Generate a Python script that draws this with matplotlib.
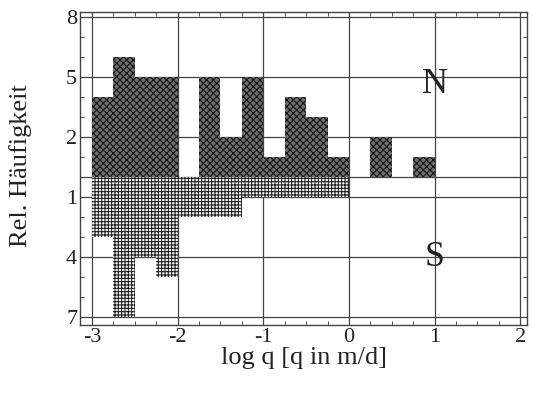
import matplotlib
matplotlib.use("Agg")
import matplotlib.pyplot as plt
from matplotlib.ticker import MultipleLocator

# histogram bins of log q (lower edges), width 0.25
BIN_LEFT = [-3.0, -2.75, -2.5, -2.25, -2.0, -1.75, -1.5, -1.25,
            -1.0, -0.75, -0.5, -0.25, 0.0, 0.25, 0.5, 0.75]
BIN_WIDTH = 0.25
N_FREQ = [4, 6, 5, 5, 0, 5, 2, 5, 1, 4, 3, 1, 0, 2, 0, 1]
S_FREQ = [3, 7, 4, 5, 2, 2, 2, 1, 1, 1, 1, 1, 0, 0, 0, 0]

X_TICKS = [-3, -2, -1, 0, 1, 2]
X_TICK_LABELS = ["-3", "-2", "-1", "0", "1", "2"]
Y_TICKS = [8, 5, 2, -1, -4, -7]
Y_TICK_LABELS = ["8", "5", "2", "1", "4", "7"]

SERIF = ["Liberation Serif", "DejaVu Serif"]
plt.rcParams["font.family"] = SERIF
plt.rcParams["hatch.linewidth"] = 0.8

fig = plt.figure(figsize=(5.33, 3.95), dpi=100)
ax = fig.add_axes([0.150, 0.177, 0.839, 0.793])

ax.bar(BIN_LEFT, N_FREQ, width=BIN_WIDTH, align="edge", facecolor="#6e6e6e",
       edgecolor="#151515", hatch="xxxxx", linewidth=0, zorder=2)
ax.bar(BIN_LEFT, [-v for v in S_FREQ], width=BIN_WIDTH, align="edge", facecolor="white",
       edgecolor="#222222", hatch="+++++", linewidth=0, zorder=2)

ax.set_xlim(-3.14, 2.08)
ax.set_ylim(-7.4, 8.25)
ax.set_xticks(X_TICKS)
ax.set_xticklabels(X_TICK_LABELS)
ax.set_yticks(Y_TICKS)
ax.set_yticklabels(Y_TICK_LABELS)
ax.xaxis.set_minor_locator(MultipleLocator(0.25))
ax.yaxis.set_minor_locator(MultipleLocator(1))
ax.tick_params(which="both", direction="in", top=True, right=True, colors="#333333",
               labelcolor="#222222", labelsize=16)
ax.tick_params(which="major", length=0, pad=2)
ax.tick_params(which="minor", length=3, width=0.6)

ax.grid(True, which="major", color="#444444", linewidth=0.9)
ax.axhline(0, color="#444444", linewidth=0.9, zorder=1)
ax.set_axisbelow(True)
for sp in ax.spines.values():
    sp.set_color("#444444")
    sp.set_linewidth(1.0)

ax.text(1.0, 4.6, "N", fontsize=26, ha="center", va="center", color="#222222")
ax.text(1.0, -4.0, "S", fontsize=26, ha="center", va="center", color="#222222")

ax.set_xlabel("log q [q in m/d]", fontsize=19, color="#222222", labelpad=0)
ax.set_ylabel("Rel. Häufigkeit", fontsize=19, color="#222222")
ax.yaxis.set_label_coords(-0.107, 0.51)

fig.savefig("out.png", dpi=100)
